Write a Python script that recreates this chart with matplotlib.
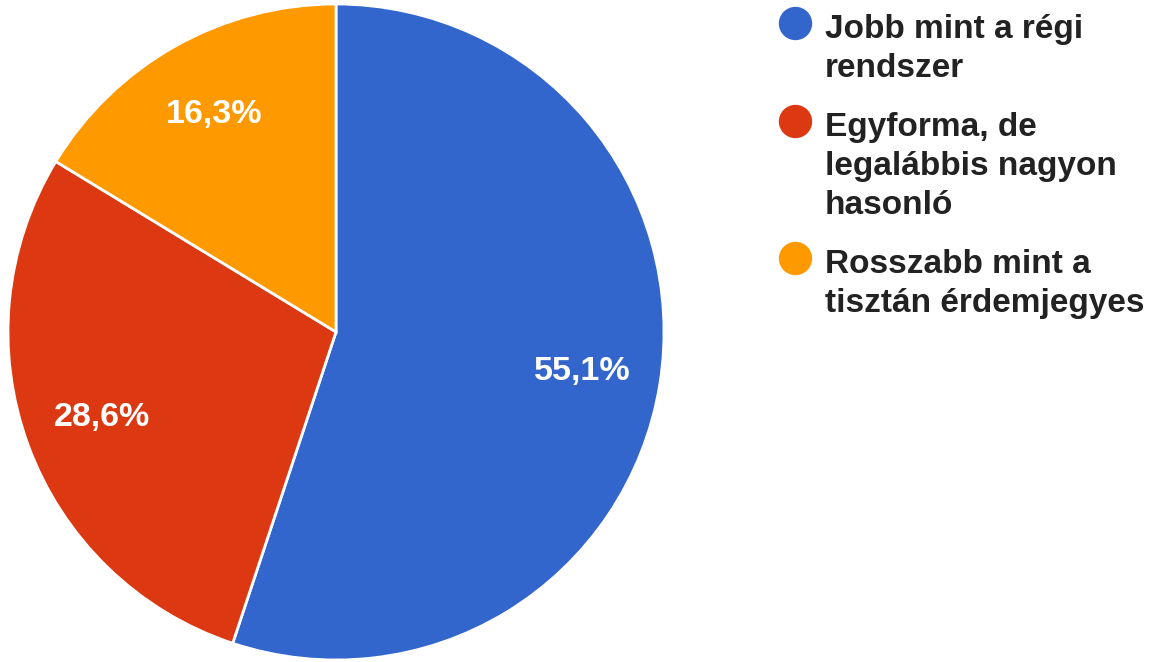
import matplotlib.pyplot as plt

# Válaszok megoszlása
kategoriak = ['Jobb mint a régi\nrendszer',
              'Egyforma, de\nlegalábbis nagyon\nhasonló',
              'Rosszabb mint a\ntisztán érdemjegyes']
ertekek = [55.1, 28.6, 16.3]
szinek = ['#3366CC', '#DC3912', '#FF9900']

plt.rcParams['font.family'] = ['Liberation Sans', 'DejaVu Sans']

W, H = 1152, 662
fig = plt.figure(figsize=(W / 100, H / 100), dpi=100)

# Kördiagram
ax = fig.add_axes([8 / W, 2 / H, 656 / W, 656 / H])
ax.pie(ertekek, colors=szinek, startangle=90, counterclock=False,
       radius=1.0, pctdistance=0.76,
       autopct=lambda p: f'{p:.1f}%'.replace('.', ','),
       wedgeprops=dict(edgecolor='white', linewidth=2),
       textprops=dict(color='white', fontsize=24.5, fontweight='bold'))
ax.set_xlim(-1, 1)
ax.set_ylim(-1, 1)
ax.set_aspect('equal')

# Jelmagyarázat kézzel, pixel koordinátákban
lg = fig.add_axes([0, 0, 1, 1])
lg.set_xlim(0, W)
lg.set_ylim(H, 0)
lg.axis('off')
sor = 39
alap = 38
for nev, szin in zip(kategoriak, szinek):
    lg.plot(795, alap - 15, 'o', color=szin, markersize=23)
    for i, resz in enumerate(nev.split('\n')):
        lg.text(825, alap + i * sor, resz, fontsize=24, fontweight='bold',
                color='#222222', va='baseline', ha='left')
    alap += sor * (nev.count('\n') + 1) + 20

fig.savefig('out.png', dpi=100)
